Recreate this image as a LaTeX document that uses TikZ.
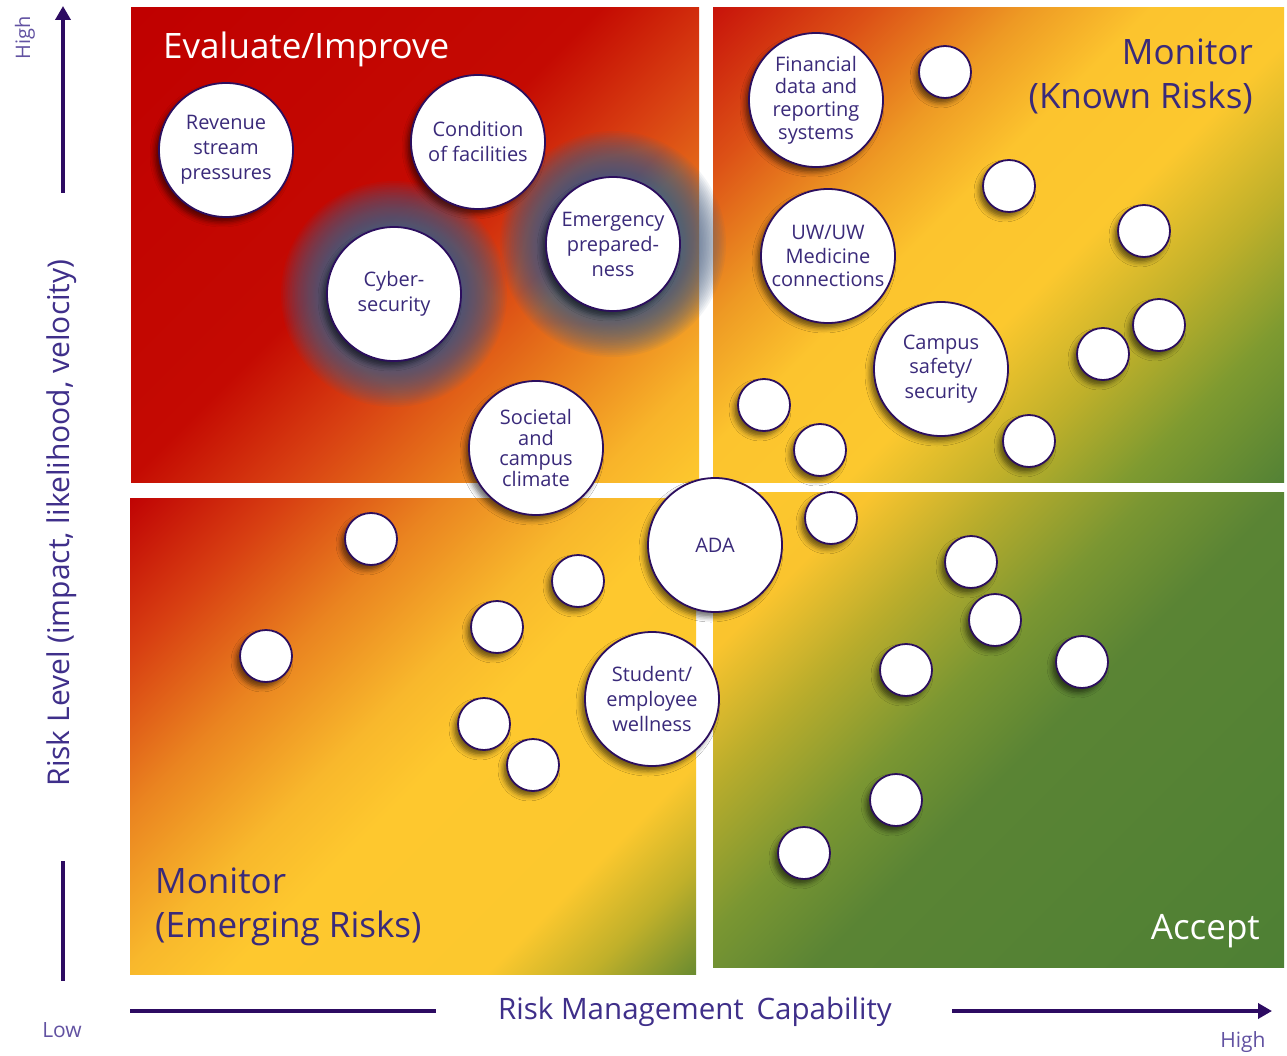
\documentclass[tikz,border=0pt]{standalone}
\usepackage{fontspec}
\setmainfont{Open Sans}
\usetikzlibrary{arrows.meta,shadows.blur}

% palette
\definecolor{ctext}{HTML}{3A2A7A}
\definecolor{cborder}{HTML}{2C0E5E}
\definecolor{caxis}{HTML}{2D0B62}
\definecolor{clabel}{HTML}{3F2F8A}
\definecolor{clight}{HTML}{6252A2}
\definecolor{glowc}{HTML}{4A6082}

% stop colours of the quadrant gradients
\definecolor{tlA}{HTML}{C00000}\definecolor{tlB}{HTML}{C40A02}\definecolor{tlC}{HTML}{D84012}
\definecolor{tlD}{HTML}{E87A1C}\definecolor{tlE}{HTML}{F8B42A}\definecolor{tlF}{HTML}{FDC82E}
\definecolor{trA}{HTML}{C8140A}\definecolor{trB}{HTML}{DC5016}\definecolor{trC}{HTML}{EE9A24}
\definecolor{trD}{HTML}{FCC42E}\definecolor{trE}{HTML}{FCC82E}\definecolor{trF}{HTML}{C0B02A}
\definecolor{trG}{HTML}{7E9A30}\definecolor{trH}{HTML}{548235}
\definecolor{blA}{HTML}{C00404}\definecolor{blB}{HTML}{D84012}\definecolor{blC}{HTML}{EA8420}
\definecolor{blD}{HTML}{F8B82C}\definecolor{blE}{HTML}{FEC82E}\definecolor{blF}{HTML}{FCC82E}
\definecolor{blG}{HTML}{C0B02A}\definecolor{blH}{HTML}{6C8C30}
\definecolor{brA}{HTML}{FDC82E}\definecolor{brB}{HTML}{FAC42E}\definecolor{brC}{HTML}{B8AC2C}
\definecolor{brD}{HTML}{7A9632}\definecolor{brE}{HTML}{5A8434}\definecolor{brF}{HTML}{4E8034}

% diagonal gradients (the middle 50bp span the rectangle; rotated by -45)
\pgfdeclarehorizontalshading{shTL}{100bp}{color(0bp)=(tlA); color(14.64bp)=(tlA);
  color(46.46bp)=(tlB); color(57.07bp)=(tlC); color(67.67bp)=(tlD);
  color(78.28bp)=(tlE); color(85.36bp)=(tlF); color(100bp)=(tlF)}
\pgfdeclarehorizontalshading{shTR}{100bp}{color(0bp)=(trA); color(14.64bp)=(trA);
  color(25.25bp)=(trB); color(35.85bp)=(trC); color(44.34bp)=(trD);
  color(55.65bp)=(trE); color(65.55bp)=(trF); color(74.74bp)=(trG);
  color(85.36bp)=(trH); color(100bp)=(trH)}
\pgfdeclarehorizontalshading{shBL}{100bp}{color(0bp)=(blA); color(14.64bp)=(blA);
  color(25.25bp)=(blB); color(35.85bp)=(blC); color(46.46bp)=(blD);
  color(53.53bp)=(blE); color(71.21bp)=(blF); color(78.28bp)=(blG);
  color(85.36bp)=(blH); color(100bp)=(blH)}
\pgfdeclarehorizontalshading{shBR}{100bp}{color(0bp)=(brA); color(14.64bp)=(brA);
  color(25.25bp)=(brB); color(34.44bp)=(brC); color(44.34bp)=(brD);
  color(53.53bp)=(brE); color(85.36bp)=(brF); color(100bp)=(brF)}

\tikzset{
  circshadow/.style={blur shadow={shadow xshift=-4pt,shadow yshift=-5pt,
      shadow blur radius=5pt,shadow opacity=55}},
  riskbig/.style={circle, fill=white, draw=cborder, line width=1.8pt,
      minimum size=134pt, inner sep=0pt, align=center, text=ctext,
      font=\fontsize{20}{25}\selectfont, circshadow},
  riskdot/.style={circle, fill=white, draw=cborder, line width=1.8pt,
      minimum size=52pt, inner sep=0pt, circshadow},
  quadtitle/.style={font=\fontsize{35}{44}\selectfont, inner sep=0pt},
  axisline/.style={draw=caxis, line width=4pt},
  axistext/.style={text=clabel, inner sep=0pt},
}

\begin{document}
\begin{tikzpicture}[x=1pt,y=-1pt]
\useasboundingbox (0,0) rectangle (1287,1056);
\fill[white] (0,0) rectangle (1287,1056);

% quadrants
\shade[shading=shTL, shading angle=-45] (131,8) rectangle (699,482);
\shade[shading=shTR, shading angle=-45] (713,8) rectangle (1284,482);
\shade[shading=shBL, shading angle=-45] (130,498) rectangle (696,974);
\shade[shading=shBR, shading angle=-45] (713,492) rectangle (1284,967);

% haloes behind the two highlighted risks (rings packed densely near the rim)
\coordinate (cyC) at (394,294);
\coordinate (emC) at (613,244);
\foreach \k in {1,...,40}{
  \pgfmathsetmacro\rr{67+46*(\k/40)^1.6}
  \fill[glowc, opacity=0.065] (cyC) circle[radius=\rr pt];
  \fill[glowc, opacity=0.065] (emC) circle[radius=\rr pt];
}

% labelled risks
\node[riskbig] (rev) at (226,150) {Revenue\\stream\\pressures};
\node[riskbig] (cond) at (478,142) {Condition\\of facilities};
\node[riskbig] (cyber) at (cyC) {Cyber-\\security};
\node[riskbig] (emerg) at (emC) {Emergency\\prepared-\\ness};
\node[riskbig, font=\fontsize{20}{20.5}\selectfont] (soc) at (536,448) {Societal\\and\\campus\\climate};
\node[riskbig, font=\fontsize{20}{22.7}\selectfont] (fin) at (816,100) {Financial\\data and\\reporting\\systems};
\node[riskbig, font=\fontsize{20}{23.5}\selectfont] (uw) at (828,256) {UW/UW\\Medicine\\connections};
\node[riskbig, font=\fontsize{20}{24.5}\selectfont] (safe) at (941,369) {Campus\\safety/\\security};
\node[riskbig] (ada) at (715,545) {ADA};
\node[riskbig] (well) at (652,699) {Student/\\employee\\wellness};

% unlabelled risks
\foreach \n/\p in {d1/{(945,72)}, d2/{(1009,186)}, d3/{(1144,231)}, d4/{(1159,325)},
  d5/{(1103,354)}, d6/{(764,405)}, d7/{(820,450)}, d8/{(1029,441)}, d9/{(831,518)},
  d10/{(371,539)}, d11/{(578,581)}, d12/{(497,627)}, d13/{(266,656)}, d14/{(484,724)},
  d15/{(533,765)}, d16/{(971,562)}, d17/{(995,620)}, d18/{(1082,662)}, d19/{(906,670)},
  d20/{(896,800)}, d21/{(804,853)}}
  \node[riskdot] (\n) at \p {};

% quadrant titles
\node[quadtitle, text=white, anchor=base west] (tEval) at (163,59) {Evaluate/Improve};
\node[quadtitle, text=ctext, anchor=north east, align=right] (tKnown) at (1253,39) {Monitor\\(Known Risks)};
\node[quadtitle, text=ctext, anchor=north west, align=left] (tEmerg) at (155,868) {Monitor\\(Emerging Risks)};
\node[quadtitle, text=white, anchor=base east] (tAcc) at (1260,939) {Accept};

% vertical axis
\coordinate (yB) at (63,193);
\coordinate (yT) at (63,6);
\coordinate (yL1) at (63,861);
\coordinate (yL2) at (63,981);
\draw[axisline, -{Triangle[length=14pt,width=15pt]}] (yB) -- (yT);
\draw[axisline] (yL1) -- (yL2);
\node[axistext, rotate=90, font=\fontsize{30}{32}\selectfont] (yLab) at (62,523) {Risk Level (impact, likelihood, velocity)};
\node[axistext, text=clight, rotate=90, font=\fontsize{20}{22}\selectfont] (yHigh) at (25,38) {High};
\node[axistext, text=clight, font=\fontsize{21}{23}\selectfont] (yLow) at (62,1030) {Low};

% horizontal axis
\coordinate (xA) at (130,1011);
\coordinate (xB) at (436,1011);
\coordinate (xC) at (952,1011);
\coordinate (xD) at (1272,1011);
\draw[axisline] (xA) -- (xB);
\draw[axisline, -{Triangle[length=14pt,width=15pt]}] (xC) -- (xD);
\node[axistext, font=\fontsize{29.5}{31}\selectfont] (xLab) at (695,1012) {Risk Management\hspace{5pt} Capability};
\node[axistext, text=clight, font=\fontsize{21}{23}\selectfont] (xHigh) at (1243,1042) {High};
\end{tikzpicture}
\end{document}
